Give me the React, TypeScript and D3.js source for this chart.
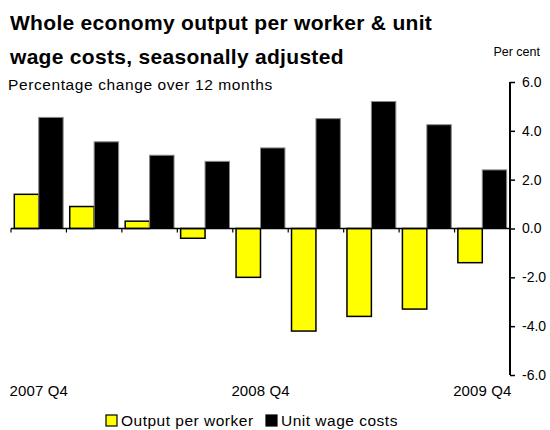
import React, { useEffect, useRef } from 'react';
import * as d3 from 'd3';

const quarters = ['2007 Q4', '2008 Q1', '2008 Q2', '2008 Q3', '2008 Q4', '2009 Q1', '2009 Q2', '2009 Q3', '2009 Q4'];
const outputPerWorker = [1.4, 0.9, 0.3, -0.4, -2.0, -4.2, -3.6, -3.3, -1.4];
const unitWageCosts = [4.55, 3.55, 3.0, 2.75, 3.3, 4.5, 5.2, 4.25, 2.4];
const seriesNames = ['Output per worker', 'Unit wage costs'];
const seriesColors = ['#ffff00', '#000000'];
const yTicks = [-6, -4, -2, 0, 2, 4, 6];
const labelledQuarters = ['2007 Q4', '2008 Q4', '2009 Q4'];

const FONT = '"Liberation Sans", Arial, sans-serif';

const App = () => {
  const svgRef = useRef<SVGSVGElement>(null);

  useEffect(() => {
    const svg = d3.select(svgRef.current);
    svg.selectAll('*').remove();

    const left = 11;
    const right = 510;
    const top = 82;
    const bottom = 375;

    // scales
    const x = d3.scaleBand().domain(quarters).range([left, right]);
    const x1 = d3.scaleBand().domain(seriesNames).range([0, x.bandwidth()]).paddingOuter(0.135);
    const y = d3.scaleLinear().domain([-6, 6]).range([bottom, top]);

    const rows = quarters.map((q, i) => ({ q, values: [outputPerWorker[i], unitWageCosts[i]] }));

    // bars
    const groups = svg
      .append('g')
      .selectAll('g')
      .data(rows)
      .join('g')
      .attr('transform', (d) => `translate(${x(d.q)},0)`);

    groups
      .selectAll('rect')
      .data((d) => d.values.map((v, i) => ({ v, i })))
      .join('rect')
      .attr('x', (d) => x1(seriesNames[d.i]))
      .attr('y', (d) => y(Math.max(0, d.v)))
      .attr('width', x1.bandwidth())
      .attr('height', (d) => Math.abs(y(d.v) - y(0)))
      .attr('fill', (d) => seriesColors[d.i])
      .attr('stroke', (d) => (d.i === 0 ? '#000' : '#888'))
      .attr('stroke-width', (d) => (d.i === 0 ? 1.5 : 1));

    // zero line with category ticks
    svg
      .append('line')
      .attr('x1', left)
      .attr('x2', right)
      .attr('y1', y(0))
      .attr('y2', y(0))
      .attr('stroke', '#000')
      .attr('stroke-width', 1.5);

    svg
      .append('g')
      .selectAll('line')
      .data(quarters)
      .join('line')
      .attr('x1', (d) => x(d))
      .attr('x2', (d) => x(d))
      .attr('y1', y(0))
      .attr('y2', y(0) + 4)
      .attr('stroke', '#000')
      .attr('stroke-width', 1.2);

    // right axis
    const yAxis = d3
      .axisRight(y)
      .tickValues(yTicks)
      .tickSize(5)
      .tickPadding(7)
      .tickFormat((d) => (d as number).toFixed(1));

    const ax = svg.append('g').attr('transform', `translate(${right},0)`).call(yAxis);
    ax.select('.domain').attr('d', `M0,${top}V${bottom}`).attr('stroke-width', 2);
    ax.selectAll('.tick line').attr('stroke-width', 1.5);
    ax.selectAll('.tick text').attr('font-family', FONT).attr('font-size', 14).attr('fill', '#000');

    // category labels
    svg
      .append('g')
      .selectAll('text')
      .data(labelledQuarters)
      .join('text')
      .attr('x', (d) => x(d) + x.bandwidth() / 2)
      .attr('y', 396)
      .attr('text-anchor', 'middle')
      .attr('font-family', FONT)
      .attr('font-size', 15)
      .attr('letter-spacing', 0.1)
      .text((d) => d);

    // titles
    const title = svg.append('g').attr('font-family', FONT).attr('fill', '#000');
    title
      .append('text')
      .attr('x', 10)
      .attr('y', 30)
      .attr('font-size', 21)
      .attr('font-weight', 'bold')
      .attr('letter-spacing', 0.3)
      .text('Whole economy output per worker & unit');
    title
      .append('text')
      .attr('x', 10)
      .attr('y', 64)
      .attr('font-size', 21)
      .attr('font-weight', 'bold')
      .attr('letter-spacing', 0.3)
      .text('wage costs, seasonally adjusted');
    title
      .append('text')
      .attr('x', 8)
      .attr('y', 90)
      .attr('font-size', 15.5)
      .attr('letter-spacing', 0.6)
      .text('Percentage change over 12 months');
    title
      .append('text')
      .attr('x', 540)
      .attr('y', 56)
      .attr('text-anchor', 'end')
      .attr('font-size', 12.5)
      .text('Per cent');

    // legend
    const legendX = [106, 266];
    const legend = svg
      .append('g')
      .selectAll('g')
      .data(seriesNames)
      .join('g')
      .attr('transform', (d, i) => `translate(${legendX[i]},415)`);
    legend
      .append('rect')
      .attr('width', 11)
      .attr('height', 11)
      .attr('fill', (d, i) => seriesColors[i])
      .attr('stroke', '#000')
      .attr('stroke-width', 1.2);
    legend
      .append('text')
      .attr('x', 15)
      .attr('y', 10.5)
      .attr('font-family', FONT)
      .attr('font-size', 15.5)
      .attr('letter-spacing', 0.5)
      .text((d) => d);
  }, []);

  return (
    <svg
      ref={svgRef}
      width={550}
      height={430}
      style={{ position: 'absolute', left: 0, top: 0, background: '#fff' }}
    />
  );
};

export default App;
